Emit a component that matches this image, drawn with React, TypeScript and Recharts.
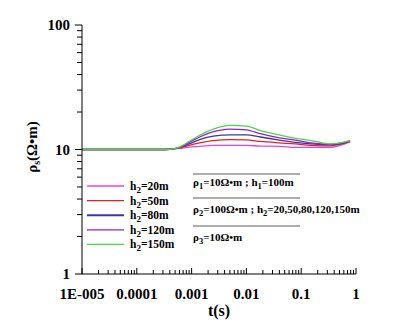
import { Legend, Line, LineChart, XAxis, YAxis } from "recharts";

const T = [1e-5, 1e-4, 2.5e-4, 4e-4, 6e-4, 9e-4, 1.4e-3, 2.5e-3, 5e-3, 0.01, 0.018, 0.04, 0.078, 0.15, 0.34, 0.78];
const H20 = [10, 10, 10, 10.05, 10.2, 10.45, 10.6, 10.8, 10.8, 10.8, 10.65, 10.6, 10.4, 10.4, 10.4, 11.5];
const H50 = [10, 10, 10, 10.05, 10.3, 10.8, 11.3, 11.8, 12.0, 11.95, 11.6, 11.3, 11.1, 10.8, 10.7, 11.6];
const H80 = [10, 10, 10, 10.05, 10.35, 11.1, 12.0, 12.8, 13.1, 13.1, 12.6, 11.9, 11.4, 11.1, 10.9, 11.7];
const H120 = [10, 10, 10, 10.05, 10.4, 11.4, 12.6, 13.9, 14.6, 14.4, 13.4, 12.4, 11.9, 11.3, 11.0, 11.8];
const H150 = [10, 10, 10, 10.05, 10.45, 11.6, 13.0, 14.6, 15.6, 15.4, 14.2, 13.1, 12.3, 11.8, 11.1, 11.8];

const SERIES = [
  { key: "h20", name: "20m", values: H20, color: "#e846d8" },
  { key: "h50", name: "50m", values: H50, color: "#e82020" },
  { key: "h80", name: "80m", values: H80, color: "#3838a8" },
  { key: "h120", name: "120m", values: H120, color: "#9420c8" },
  { key: "h150", name: "150m", values: H150, color: "#48d848" },
];

const X_MAJOR = [1e-5, 1e-4, 1e-3, 0.01, 0.1, 1];
const X_LABELS = ["1E-005", "0.0001", "0.001", "0.01", "0.1", "1"];
const Y_MAJOR = [1, 10, 100];
const Y_LABELS = ["1", "10", "100"];
const MINOR_MULT = [2, 3, 4, 5, 6, 7, 8, 9];

const xTicks = [
  ...X_MAJOR,
  ...X_MAJOR.slice(0, -1).flatMap((m) => MINOR_MULT.map((k) => m * k)),
];
const yTicks = [
  ...Y_MAJOR,
  ...Y_MAJOR.slice(0, -1).flatMap((m) => MINOR_MULT.map((k) => m * k)),
];

const data = T.map((t, i) => {
  const row: Record<string, number> = { t };
  SERIES.forEach((s) => (row[s.key] = s.values[i]));
  return row;
});

const FONT = "Liberation Serif";

function XTick(props: any) {
  const { x, y, payload } = props;
  const idx = X_MAJOR.findIndex((m) => Math.abs(m - payload.value) / m < 1e-6);
  const major = idx >= 0;
  return (
    <g>
      <line x1={x} x2={x} y1={y} y2={y - (major ? 6 : 4)} stroke="#000" />
      {major && (
        <text x={x} y={y + 25} textAnchor="middle" fontFamily={FONT} fontWeight="bold" fontSize={15} fill="#000">
          {X_LABELS[idx]}
        </text>
      )}
    </g>
  );
}

function YTick(props: any) {
  const { x, y, payload } = props;
  const idx = Y_MAJOR.findIndex((m) => Math.abs(m - payload.value) / m < 1e-6);
  const major = idx >= 0;
  return (
    <g>
      <line x1={x} x2={x - (major ? 7 : 5)} y1={y} y2={y} stroke="#000" />
      {major && (
        <text x={x - 12} y={y + 5} textAnchor="end" fontFamily={FONT} fontWeight="bold" fontSize={15} fill="#000">
          {Y_LABELS[idx]}
        </text>
      )}
    </g>
  );
}

function LegendContent() {
  return (
    <svg width={110} height={80}>
      {SERIES.map((s, i) => {
        const cy = 8 + i * 14.6;
        return (
          <g key={s.key}>
            <line x1={2} x2={39} y1={cy} y2={cy} stroke={s.color} strokeWidth={s.key === "h80" ? 2 : 1.3} />
            <text x={45} y={cy + 4} fontFamily={FONT} fontWeight="bold" fontSize={11.5} fill="#000">
              h<tspan dy={3} fontSize={9}>2</tspan>
              <tspan dy={-3}>={s.name}</tspan>
            </text>
          </g>
        );
      })}
    </svg>
  );
}

function Sub({ base, sub, rest }: { base: string; sub: string; rest: string }) {
  return (
    <>
      {base}
      <tspan dy={3} fontSize={8.5}>{sub}</tspan>
      <tspan dy={-3}>{rest}</tspan>
    </>
  );
}

export default function App() {
  return (
    <div style={{ position: "absolute", left: 0, top: 0, width: 395, height: 335, background: "#fff" }}>
      <LineChart
        width={395}
        height={335}
        data={data}
        margin={{ top: 25, right: 39, bottom: 21, left: 0 }}
      >
        <XAxis
          dataKey="t"
          type="number"
          scale="log"
          domain={[1e-5, 1]}
          allowDataOverflow
          ticks={xTicks}
          interval={0}
          tickSize={0}
          tickMargin={0}
          tick={<XTick />}
          height={40}
          stroke="#000"
        />
        <YAxis
          type="number"
          scale="log"
          domain={[1, 100]}
          allowDataOverflow
          ticks={yTicks}
          interval={0}
          tickSize={0}
          tickMargin={0}
          tick={<YTick />}
          width={82}
          stroke="#000"
        />
        <Legend
          layout="vertical"
          align="center"
          verticalAlign="middle"
          wrapperStyle={{ left: 85, top: 178, width: 110, height: 80 }}
          content={<LegendContent />}
        />
        {SERIES.map((s) => (
          <Line
            key={s.key}
            dataKey={s.key}
            name={s.name}
            type="monotone"
            stroke={s.color}
            strokeWidth={1.3}
            dot={false}
            isAnimationActive={false}
          />
        ))}
      </LineChart>
      <svg width={395} height={335} style={{ position: "absolute", left: 0, top: 0, pointerEvents: "none" }}>
        <text x={219} y={316} textAnchor="middle" fontFamily={FONT} fontWeight="bold" fontSize={16} fill="#000">
          t(s)
        </text>
        <text transform="translate(37,147) rotate(-90)" textAnchor="middle" fontFamily={FONT} fontWeight="bold" fontSize={15} fill="#000">
          ρ<tspan dy={3} fontSize={10}>s</tspan>
          <tspan dy={-3}>(Ω•m)</tspan>
        </text>
        <g fontFamily={FONT} fontWeight="bold" fontSize={11} fill="#000">
          <line x1={193} x2={300} y1={174} y2={174} stroke="#333" strokeWidth={0.8} />
          <text x={193} y={186}>
            <Sub base="ρ" sub="1" rest="=10Ω•m ; h" />
            <tspan dy={3} fontSize={8.5}>1</tspan>
            <tspan dy={-3}>=100m</tspan>
          </text>
          <line x1={193} x2={300} y1={198} y2={198} stroke="#333" strokeWidth={0.8} />
          <text x={193} y={213}>
            <Sub base="ρ" sub="2" rest="=100Ω•m ; h" />
            <tspan dy={3} fontSize={8.5}>2</tspan>
            <tspan dy={-3}>=20,50,80,120,150m</tspan>
          </text>
          <line x1={193} x2={300} y1={226} y2={226} stroke="#333" strokeWidth={0.8} />
          <text x={193} y={241}>
            <Sub base="ρ" sub="3" rest="=10Ω•m" />
          </text>
        </g>
      </svg>
    </div>
  );
}
